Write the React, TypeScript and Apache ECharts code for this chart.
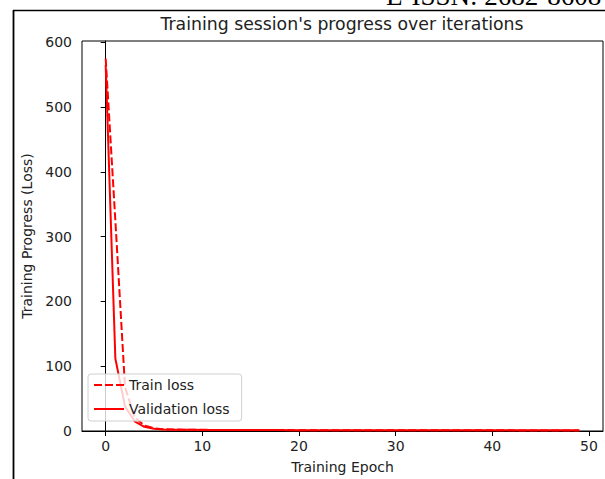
import React, { useEffect, useRef } from "react";
import * as echarts from "echarts";

const epochs: number[] = Array.from({ length: 50 }, (_, i) => i);

const trainLoss: number[] = [
  575, 325, 68, 21, 8.5, 4.2, 2.8, 2.3, 2.1, 1.9,
  1.8, 1.7, 1.7, 1.6, 1.6, 1.5, 1.5, 1.4, 1.4, 1.4,
  1.3, 1.3, 1.3, 1.3, 1.2, 1.2, 1.2, 1.2, 1.2, 1.1,
  1.1, 1.1, 1.1, 1.1, 1.1, 1.0, 1.0, 1.0, 1.0, 1.0,
  1.0, 1.0, 1.0, 0.9, 0.9, 0.9, 0.9, 0.9, 0.9, 0.9,
];

const valLoss: number[] = [
  565, 112, 38, 15, 6.5, 3.4, 2.5, 2.1, 1.9, 1.8,
  1.7, 1.6, 1.6, 1.5, 1.5, 1.5, 1.4, 1.4, 1.4, 1.3,
  1.3, 1.3, 1.3, 1.2, 1.2, 1.2, 1.2, 1.2, 1.2, 1.1,
  1.1, 1.1, 1.1, 1.1, 1.1, 1.1, 1.0, 1.0, 1.0, 1.0,
  1.0, 1.0, 1.0, 1.0, 1.0, 1.0, 1.0, 1.0, 1.0, 1.0,
];

const xTicks: number[] = [0, 10, 20, 30, 40, 50];
const yTicks: number[] = [0, 100, 200, 300, 400, 500, 600];

const FONT = "DejaVu Sans";

export default function App() {
  const ref = useRef<HTMLDivElement>(null);
  useEffect(() => {
    if (!ref.current) return;
    const chart = echarts.init(ref.current, null, { renderer: "svg" });
    chart.setOption({
      animation: false,
      backgroundColor: "#ffffff",
      grid: {
        left: 82,
        top: 41,
        width: 521,
        height: 390,
        show: true,
        borderColor: "#000",
        borderWidth: 1,
        backgroundColor: "transparent",
      },
      xAxis: {
        type: "value",
        min: -2.45,
        max: 51.45,
        name: "Training Epoch",
        nameLocation: "middle",
        nameGap: 29,
        nameTextStyle: { fontFamily: FONT, fontSize: 14, color: "#222" },
        axisLine: { show: true, onZero: false, lineStyle: { color: "#000", width: 1 } },
        axisTick: { show: true, length: 5, lineStyle: { color: "#000" }, customValues: xTicks },
        axisLabel: {
          fontFamily: FONT,
          fontSize: 14,
          color: "#222",
          margin: 8,
          customValues: xTicks,
        },
        splitLine: { show: false },
      },
      yAxis: {
        type: "value",
        min: 0,
        max: 602,
        name: "Training Progress (Loss)",
        nameLocation: "middle",
        nameGap: 44,
        nameTextStyle: { fontFamily: FONT, fontSize: 14, color: "#222" },
        axisLine: { show: true, lineStyle: { color: "#000", width: 1 } },
        axisTick: { show: true, length: 5, lineStyle: { color: "#000" }, customValues: yTicks },
        axisLabel: {
          fontFamily: FONT,
          fontSize: 14,
          color: "#222",
          margin: 10,
          customValues: yTicks,
        },
        splitLine: { show: false },
      },
      legend: {
        left: 88,
        top: 374,
        orient: "vertical",
        itemWidth: 30,
        itemHeight: 14,
        itemGap: 10,
        padding: [4, 12, 5, 5],
        backgroundColor: "rgba(255,255,255,0.8)",
        borderColor: "#d0d0d0",
        borderWidth: 1,
        borderRadius: 3,
        itemStyle: { opacity: 0, borderWidth: 0 },
        textStyle: { fontFamily: FONT, fontSize: 14, color: "#222" },
        data: ["Train loss", "Validation loss"],
      },
      series: [
        {
          name: "Train loss",
          type: "line",
          data: epochs.map((e, i) => [e, trainLoss[i]]),
          symbol: "none",
          lineStyle: { color: "#ff0000", width: 2, type: [8, 3] },
          itemStyle: { color: "#ff0000" },
        },
        {
          name: "Validation loss",
          type: "line",
          data: epochs.map((e, i) => [e, valLoss[i]]),
          symbol: "none",
          lineStyle: { color: "#ff0000", width: 2, type: "solid" },
          itemStyle: { color: "#ff0000" },
        },
      ],
      graphic: [
        {
          type: "text",
          x: 342,
          y: 24,
          style: {
            text: "Training session's progress over iterations",
            fontFamily: FONT,
            fontSize: 17.3,
            fill: "#222",
            align: "center",
            verticalAlign: "middle",
          },
        },
        {
          type: "text",
          x: 386,
          y: 9,
          style: {
            text: "E-ISSN: 2682-8608",
            fontFamily: "Liberation Serif",
            fontSize: 27,
            fill: "#000",
            align: "left",
            verticalAlign: "bottom",
          },
        },
        {
          type: "line",
          shape: { x1: 13, y1: 10.5, x2: 605, y2: 10.5 },
          style: { stroke: "#000", lineWidth: 1.5 },
        },
        {
          type: "line",
          shape: { x1: 13.5, y1: 10, x2: 13.5, y2: 479 },
          style: { stroke: "#000", lineWidth: 1.8 },
        },
      ],
    });
    return () => chart.dispose();
  }, []);
  return (
    <div
      ref={ref}
      style={{ position: "fixed", left: 0, top: 0, width: 605, height: 479 }}
    />
  );
}
